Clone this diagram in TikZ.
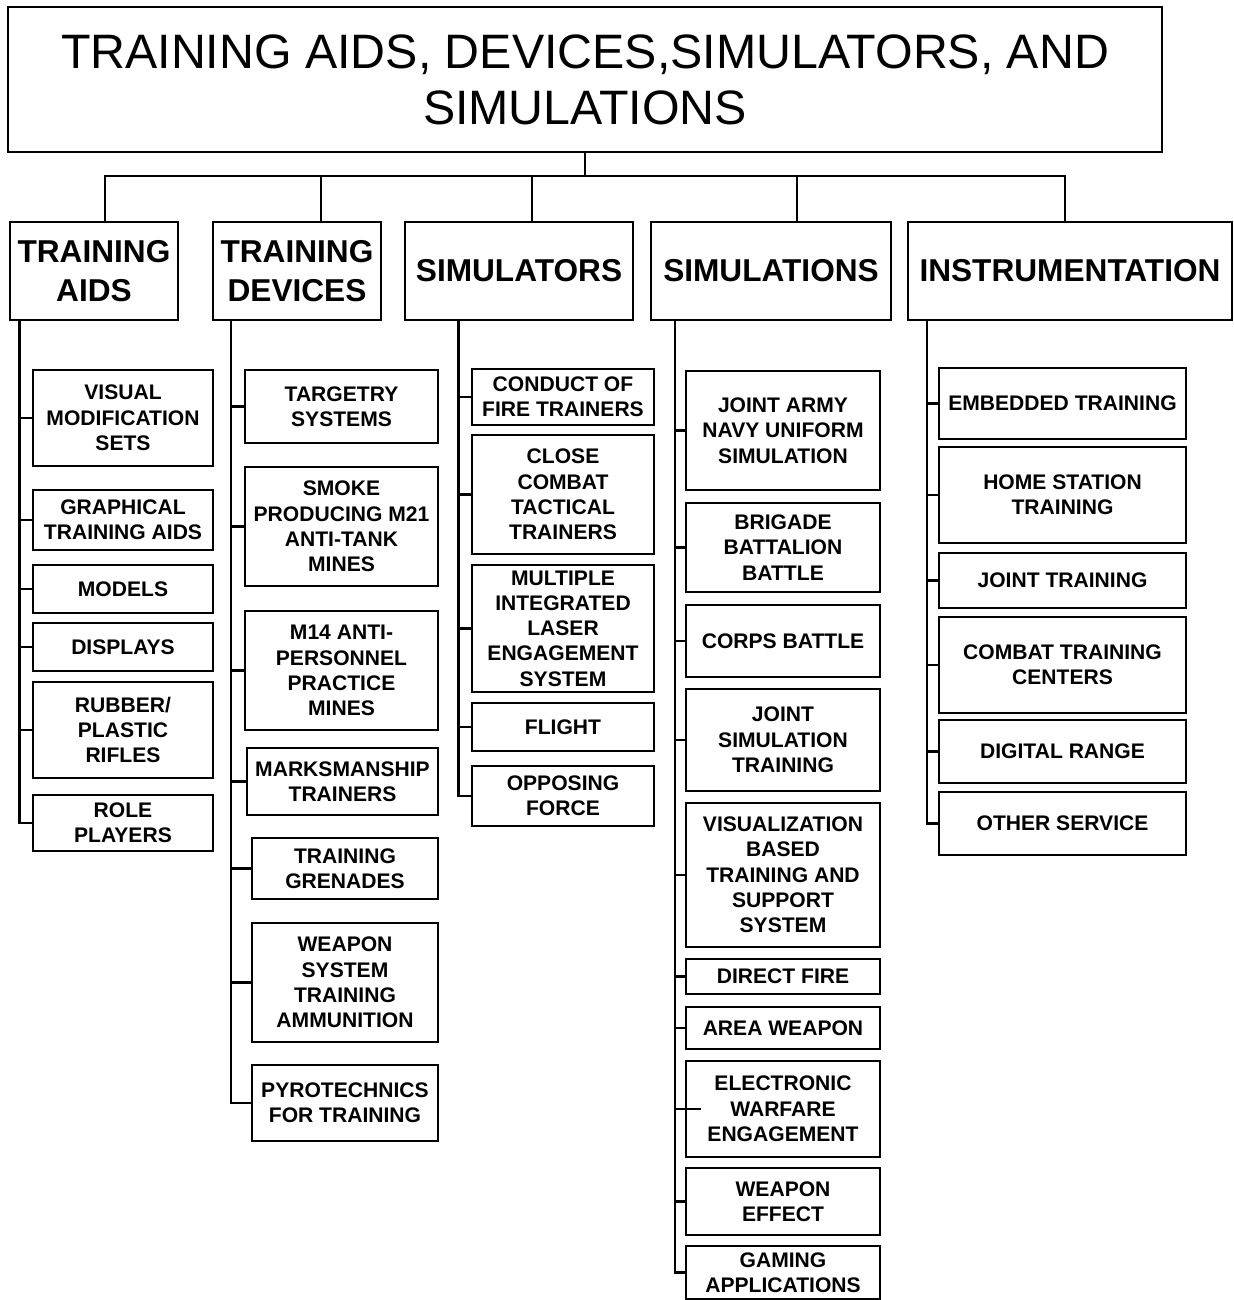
\documentclass[tikz,border=0pt]{standalone}
\usepackage{fontspec}
\setmainfont{Liberation Sans}
\usepackage{tikz}

\tikzset{
  titlebox/.style={draw, line width=1.6pt, inner sep=0pt, outer sep=0pt, align=center,
    font=\fontsize{27.5}{32}\selectfont},
  headbox/.style={draw, line width=1.6pt, inner sep=0pt, outer sep=0pt, align=center,
    font=\bfseries\fontsize{18}{22.5}\selectfont},
  itembox/.style={draw, line width=1.6pt, inner sep=0pt, outer sep=0pt, align=center,
    font=\bfseries\fontsize{12}{14.4}\selectfont},
  boxsize/.style 2 args={minimum width=#1*0.02cm, minimum height=#2*0.02cm},
  wire/.style={line width=1.2pt}
}

\begin{document}
\begin{tikzpicture}[x=0.02cm, y=-0.02cm]
\useasboundingbox (0,0) rectangle (1233,1300);

% top and categories
\node at (585,79.5) [titlebox, boxsize={1154}{145}] (top)
  {TRAINING AIDS, DEVICES,SIMULATORS, AND\\SIMULATIONS};
\node at (94,271) [headbox, boxsize={168}{98}] (ta) {TRAINING\\AIDS};
\node at (297,271) [headbox, boxsize={168}{98}] (td) {TRAINING\\DEVICES};
\node at (519,271) [headbox, boxsize={228}{98}] (sr) {SIMULATORS};
\node at (771,271) [headbox, boxsize={240}{98}] (sn) {SIMULATIONS};
\node at (1070,271) [headbox, boxsize={324}{98}] (in) {INSTRUMENTATION};
\coordinate (bus) at (585,176);

% training aids
\node at (123,418) [itembox, boxsize={180}{96}] (ta1) {VISUAL\\MODIFICATION\\SETS};
\node at (123,520) [itembox, boxsize={180}{60}] (ta2) {GRAPHICAL\\TRAINING AIDS};
\node at (123,589) [itembox, boxsize={180}{48}] (ta3) {MODELS};
\node at (123,647) [itembox, boxsize={180}{48}] (ta4) {DISPLAYS};
\node at (123,730) [itembox, boxsize={180}{96}] (ta5) {RUBBER/\\PLASTIC\\RIFLES};
\node at (123,823) [itembox, boxsize={180}{56}] (ta6) {ROLE\\PLAYERS};

% training devices
\node at (341.5,406.5) [itembox, boxsize={193}{73}] (td1) {TARGETRY\\SYSTEMS};
\node at (341.5,526.5) [itembox, boxsize={193}{119}] (td2) {SMOKE\\PRODUCING M21\\ANTI-TANK\\MINES};
\node at (341.5,670.5) [itembox, boxsize={193}{119}] (td3) {M14 ANTI-\\PERSONNEL\\PRACTICE\\MINES};
\node at (342.5,781.5) [itembox, boxsize={191}{67}] (td4) {MARKSMANSHIP\\TRAINERS};
\node at (345,868.5) [itembox, boxsize={186}{61}] (td5) {TRAINING\\GRENADES};
\node at (345,982.5) [itembox, boxsize={186}{119}] (td6) {WEAPON\\SYSTEM\\TRAINING\\AMMUNITION};
\node at (345,1103) [itembox, boxsize={186}{76}] (td7) {PYROTECHNICS\\FOR TRAINING};

% simulators
\node at (563,397) [itembox, boxsize={182}{56}] (sr1) {CONDUCT OF\\FIRE TRAINERS};
\node at (563,494.5) [itembox, boxsize={182}{119}] (sr2) {CLOSE\\COMBAT\\TACTICAL\\TRAINERS};
\node at (563,628.5) [itembox, boxsize={182}{127}] (sr3) {MULTIPLE\\INTEGRATED\\LASER\\ENGAGEMENT\\SYSTEM};
\node at (563,727) [itembox, boxsize={182}{48}] (sr4) {FLIGHT};
\node at (563,796) [itembox, boxsize={182}{60}] (sr5) {OPPOSING\\FORCE};

% simulations
\node at (783,430.5) [itembox, boxsize={194}{119}] (sn1) {JOINT ARMY\\NAVY UNIFORM\\SIMULATION};
\node at (783,547.5) [itembox, boxsize={194}{89}] (sn2) {BRIGADE\\BATTALION\\BATTLE};
\node at (783,641) [itembox, boxsize={194}{72}] (sn3) {CORPS BATTLE};
\node at (783,740) [itembox, boxsize={194}{102}] (sn4) {JOINT\\SIMULATION\\TRAINING};
\node at (783,875) [itembox, boxsize={194}{144}] (sn5) {VISUALIZATION\\BASED\\TRAINING AND\\SUPPORT\\SYSTEM};
\node at (783,976.5) [itembox, boxsize={194}{35}] (sn6) {DIRECT FIRE};
\node at (783,1028) [itembox, boxsize={194}{42}] (sn7) {AREA WEAPON};
\node at (783,1109) [itembox, boxsize={194}{96}] (sn8) {ELECTRONIC\\WARFARE\\ENGAGEMENT};
\node at (783,1201.5) [itembox, boxsize={194}{67}] (sn9) {WEAPON\\EFFECT};
\node at (783,1272.5) [itembox, boxsize={194}{53}] (sn10) {GAMING\\APPLICATIONS};

% instrumentation
\node at (1062.5,403.5) [itembox, boxsize={247}{71}] (in1) {EMBEDDED TRAINING};
\node at (1062.5,495) [itembox, boxsize={247}{96}] (in2) {HOME STATION\\TRAINING};
\node at (1062.5,580.5) [itembox, boxsize={247}{55}] (in3) {JOINT TRAINING};
\node at (1062.5,665) [itembox, boxsize={247}{96}] (in4) {COMBAT TRAINING\\CENTERS};
\node at (1062.5,751.5) [itembox, boxsize={247}{63}] (in5) {DIGITAL RANGE};
\node at (1062.5,823.5) [itembox, boxsize={247}{63}] (in6) {OTHER SERVICE};

% bus from the top box
\draw[wire]
(top.south) -- (bus)
([xshift=0.22cm]ta.north) |- (bus)
([xshift=0.48cm]td.north) |- (bus)
([xshift=0.26cm]sr.north) |- (bus)
([xshift=0.52cm]sn.north) |- (bus)
([xshift=-0.1cm]in.north) |- (bus);

% trunks
\draw[wire]
([xshift=0.19cm]ta.south west) |- (ta1.west)  ([xshift=0.19cm]ta.south west) |- (ta2.west)
([xshift=0.19cm]ta.south west) |- (ta3.west)  ([xshift=0.19cm]ta.south west) |- (ta4.west)
([xshift=0.19cm]ta.south west) |- (ta5.west)  ([xshift=0.19cm]ta.south west) |- (ta6.west);
\draw[wire]
([xshift=0.36cm]td.south west) |- (td1.west)  ([xshift=0.36cm]td.south west) |- (td2.west)
([xshift=0.36cm]td.south west) |- (td3.west)  ([xshift=0.36cm]td.south west) |- (td4.west)
([xshift=0.36cm]td.south west) |- (td5.west)  ([xshift=0.36cm]td.south west) |- (td6.west)
([xshift=0.36cm]td.south west) |- (td7.west);
\draw[wire]
([xshift=1.07cm]sr.south west) |- (sr1.west)  ([xshift=1.07cm]sr.south west) |- (sr2.west)
([xshift=1.07cm]sr.south west) |- (sr3.west)  ([xshift=1.07cm]sr.south west) |- (sr4.west)
([xshift=1.07cm]sr.south west) |- (sr5.west);
\draw[wire]
([xshift=0.48cm]sn.south west) |- (sn1.west)  ([xshift=0.48cm]sn.south west) |- (sn2.west)
([xshift=0.48cm]sn.south west) |- (sn3.west)  ([xshift=0.48cm]sn.south west) |- (sn4.west)
([xshift=0.48cm]sn.south west) |- (sn5.west)  ([xshift=0.48cm]sn.south west) |- (sn6.west)
([xshift=0.48cm]sn.south west) |- (sn7.west)  ([xshift=0.48cm]sn.south west) |- ([xshift=0.3cm]sn8.west)
([xshift=0.48cm]sn.south west) |- (sn9.west)  ([xshift=0.48cm]sn.south west) |- (sn10.west);
\draw[wire]
([xshift=0.38cm]in.south west) |- (in1.west)  ([xshift=0.38cm]in.south west) |- (in2.west)
([xshift=0.38cm]in.south west) |- (in3.west)  ([xshift=0.38cm]in.south west) |- (in4.west)
([xshift=0.38cm]in.south west) |- (in5.west)  ([xshift=0.38cm]in.south west) |- (in6.west);
\end{tikzpicture}
\end{document}
